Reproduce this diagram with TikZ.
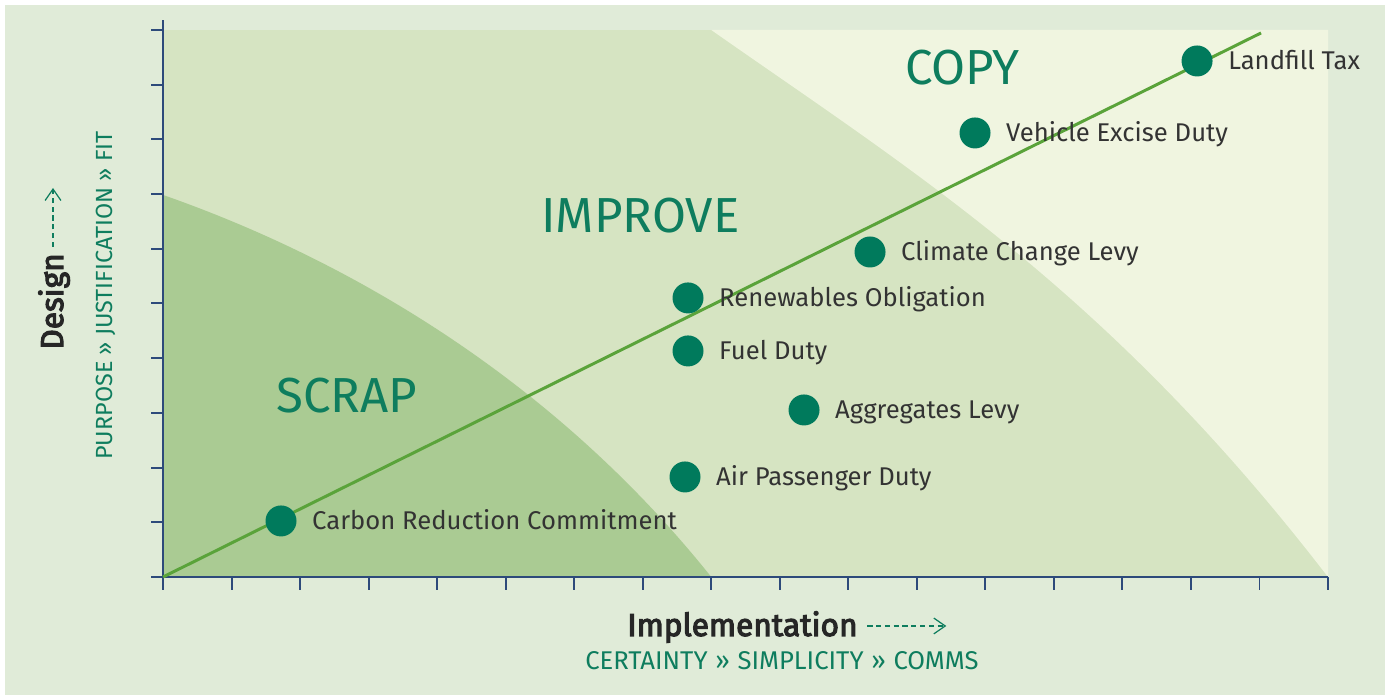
\documentclass[tikz,border=0pt]{standalone}
\usepackage{fontspec}
\setmainfont{Fira Sans}
\newfontfamily\titlefont[FakeBold=3.5]{Fira Sans}
\usetikzlibrary{arrows.meta}
\usetikzlibrary{positioning}

\definecolor{bggreen}{HTML}{E0EBD8}
\definecolor{improvegreen}{HTML}{D6E4C2}
\definecolor{copygreen}{HTML}{F0F5E0}
\definecolor{scrapgreen}{HTML}{AACB93}
\definecolor{axisblue}{HTML}{2D4A7A}
\definecolor{trendgreen}{HTML}{5AA33A}
\definecolor{dotteal}{HTML}{007A5C}
\definecolor{textteal}{HTML}{0E7D5E}
\definecolor{labelgrey}{HTML}{333333}

\newcommand{\chev}{\hspace{0.3em}»\hspace{0.3em}}

\tikzset{
	tax/.style={circle, fill=dotteal, inner sep=0pt, minimum size=0.62cm},
	taxlabel/.style={text=labelgrey, font=\fontsize{14.6}{17}\selectfont, inner sep=0pt,
	                 text height=1.75ex, text depth=0pt, label distance=0.3cm},
	zone/.style={text=textteal, font=\fontsize{28}{32}\selectfont, inner sep=0pt, anchor=base west},
	axistitle/.style={text=black!85, font=\fontsize{18}{21}\titlefont, inner sep=0pt, anchor=base west},
	axissub/.style={text=textteal, inner sep=0pt, anchor=base west},
	hint/.style={draw=textteal, dashed, dash pattern=on 3pt off 2pt, line width=0.7pt,
	             -{Straight Barb[length=6.5pt,width=9pt]}}
}

\begin{document}
\begin{tikzpicture}[x=1.3706cm, y=1.094cm]
	\useasboundingbox (-2.3786,-2.157) rectangle (17.890,10.548);
	\fill[white] (-2.3786,-2.157) rectangle (17.890,10.548);
	\fill[bggreen] (-2.3056,-2.157) rectangle (17.832,10.457);

	% zones
	\fill[improvegreen] (0,0) rectangle (17,10);
	\fill[copygreen] (8,10) .. controls (10.915,7.441) and (13.79,5.229) .. (17,0) -- (17,10) -- cycle;
	\fill[scrapgreen] (0,6.984) .. controls (2.918,5.704) and (5.808,3.437) .. (8,0) -- (0,0) -- cycle;

	\node[zone] (scrap)   at (1.649,3.0)   {SCRAP};
	\node[zone] (improve) at (5.516,6.289) {IMPROVE};
	\node[zone] (copy)    at (10.827,8.995) {COPY};

	% axes
	\begin{scope}[draw=axisblue, line width=1.1pt]
		\draw (0,-0.238) -- (0,10.183);
		\draw (-0.175,0) -- (17,0);
		\foreach \i in {0,...,17}
			\draw (\i,0) -- (\i,-0.238);
		\foreach \j in {0,...,10}
			\draw (-0.175,\j) -- (0,\j);
	\end{scope}

	% trend
	\coordinate (origin) at (0,0);
	\coordinate (trendend) at (16.022,9.945);
	\draw[trendgreen, line width=1.7pt] (origin) -- (trendend);

	% taxes
	\node[tax, label={[taxlabel]right:Carbon Reduction Commitment}] (crc) at (1.722,1.024) {};
	\node[tax, label={[taxlabel]right:Air Passenger Duty}]          (apd) at (7.617,1.828) {};
	\node[tax, label={[taxlabel]right:Aggregates Levy}]             (al)  at (9.354,3.053) {};
	\node[tax, label={[taxlabel]right:Fuel Duty}]                   (fd)  at (7.661,4.132) {};
	\node[tax, label={[taxlabel]right:Renewables Obligation}]       (ro)  at (7.661,5.101) {};
	\node[tax, label={[taxlabel]right:Climate Change Levy}]         (ccl) at (10.317,5.941) {};
	\node[tax, label={[taxlabel]right:Vehicle Excise Duty}]         (ved) at (11.849,8.117) {};
	\node[tax, label={[taxlabel]right:Landfill Tax}]                (lt)  at (15.089,9.433) {};

	% axis titles
	\node[axistitle] (impl) at (6.771,-1.079) {Implementation};
	\node[axissub, font=\fontsize{14.6}{17}\selectfont] (implsub) at (6.158,-1.700)
		{CERTAINTY\chev SIMPLICITY\chev COMMS};
	\coordinate (implfrom) at (10.277,-0.896);
	\coordinate (implto) at (11.43,-0.896);
	\draw[hint] (implfrom) -- (implto);

	\node[axistitle, rotate=90] (design) at (-1.459,4.150) {Design};
	\node[axissub, rotate=90, font=\fontsize{13.3}{16}\selectfont] (designsub) at (-0.744,2.139)
		{PURPOSE » JUSTIFICATION » FIT};
	\coordinate (designfrom) at (-1.605,6.033);
	\coordinate (designto) at (-1.605,7.111);
	\draw[hint] (designfrom) -- (designto);
\end{tikzpicture}
\end{document}
